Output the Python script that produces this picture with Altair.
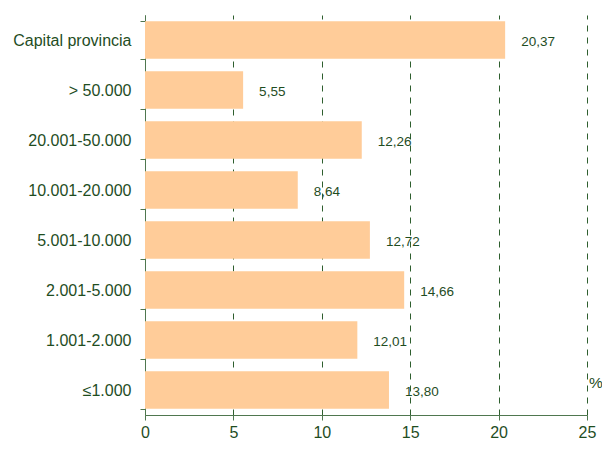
import altair as alt
import pandas as pd

categories = ["Capital provincia", "> 50.000", "20.001-50.000", "10.001-20.000",
              "5.001-10.000", "2.001-5.000", "1.001-2.000", "≤1.000"]
values = [20.37, 5.55, 12.26, 8.64, 12.72, 14.66, 12.01, 13.80]
x_ticks = [0, 5, 10, 15, 20, 25]
unit_label = ["%"]

df = pd.DataFrame({"cat": categories, "val": values})
df["lab"] = [f"{v:.2f}".replace(".", ",") for v in values]

TEXT = "#1f4d1f"
AXIS = "#4f774f"
FONT = "Liberation Sans"

base = alt.Chart(df)

y_enc = alt.Y(
    "cat:N", sort=categories, title=None,
    scale=alt.Scale(paddingInner=0.25, paddingOuter=0.125),
    axis=alt.Axis(tickBand="extent", tickSize=5, tickColor=AXIS, domainColor=AXIS,
                  labelPadding=9, labelFontSize=16, labelColor=TEXT, labelFont=FONT,
                  grid=False),
)
x_enc = alt.X(
    "val:Q", title=None,
    scale=alt.Scale(domain=[0, 25], nice=False, zero=True),
    axis=alt.Axis(values=x_ticks, grid=True, gridDash=[6, 6], gridColor="#2e5e2e",
                  gridOpacity=1, tickSize=5, tickColor=AXIS, domainColor=AXIS,
                  labelPadding=4, labelFontSize=16, labelColor=TEXT, labelFont=FONT,
                  labelFlush=False),
)

bars = base.mark_bar(color="#FFCC99").encode(x=x_enc, y=y_enc)

labels = base.mark_text(align="left", baseline="middle", dx=16, dy=2, fontSize=13.5,
                        color=TEXT, font=FONT).encode(
    x=alt.X("val:Q"),
    y=alt.Y("cat:N", sort=categories),
    text="lab:N",
)

pct = alt.Chart(pd.DataFrame({"t": unit_label})).mark_text(
    align="left", baseline="middle", fontSize=15.5, color=TEXT, font=FONT
).encode(x=alt.value(444), y=alt.value(368), text="t:N")

chart = alt.layer(bars, labels, pct).properties(
    width=442, height=400,
    autosize=alt.AutoSizeParams(type="none"),
    padding={"left": 137, "top": 7, "right": 15, "bottom": 26},
).configure_view(stroke=None)

chart.save("out.html", embed_options={"renderer": "svg", "actions": False})
